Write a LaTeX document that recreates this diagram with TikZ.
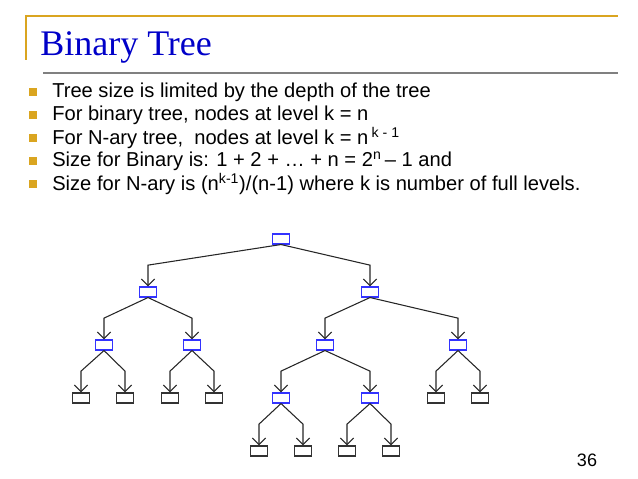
\documentclass[tikz,border=0pt]{standalone}
\usepackage{fontspec}
\setmainfont{Liberation Sans}
\newfontfamily\titlefont{Liberation Serif}
\usetikzlibrary{arrows.meta}

\definecolor{gold}{RGB}{218,165,32}
\definecolor{titleblue}{RGB}{0,0,200}

\tikzset{
  tnode/.style={draw=blue!80!white, thick, minimum width=12.75pt, minimum height=7.5pt, inner sep=0pt},
  leaf/.style={draw=black!80, thick, minimum width=12.75pt, minimum height=7.5pt, inner sep=0pt},
  edge/.style={thick, black!85, -{Straight Barb[length=5pt,width=10pt]}},
  bullet/.style={fill=gold, minimum size=5.5pt, inner sep=0pt},
  item/.style={anchor=west, font=\fontsize{15.1}{17}\selectfont, inner sep=0pt}
}

\begin{document}
\begin{tikzpicture}[x=0.75pt, y=-0.75pt]

    % frame
    \useasboundingbox (0,0) rectangle (638,478);
    \draw[gold, thick] (26,60) -- (26,16) -- (618,16);
    \draw[gray, thick] (43,73) -- (618,73);
    \node[anchor=west, titleblue, font=\titlefont\fontsize{27}{30}\selectfont, inner sep=0pt] (title) at (40,47) {Binary Tree};

    % bullets
    \foreach \i/\t in {1/{Tree size is limited by the depth of the tree},
                       2/{For binary tree, nodes at level k = n},
                       3/{For N-ary tree,\ \ nodes at level k = n\,\textsuperscript{k - 1}},
                       4/{Size for Binary is: 1 + 2 + … + n = 2\textsuperscript{n}\,– 1 and},
                       5/{Size for N-ary is (n\textsuperscript{k-1})/(n-1) where k is number of full levels.}} {
        \node[bullet] (b\i) at (33,{92+(\i-1)*23}) {};
        \node[item] (t\i) at (52,{92+(\i-1)*23}) {\t};
    }

    % tree
    \node[tnode] (r) at (281,239) {};
    \node[tnode] (a) at (148,292) {};
    \node[tnode] (b) at (370,292) {};
    \node[tnode] (aa) at (104,345) {};
    \node[tnode] (ab) at (192,345) {};
    \node[tnode] (ba) at (325,345) {};
    \node[tnode] (bb) at (458,345) {};
    \node[leaf] (aaa) at (81,398) {};
    \node[leaf] (aab) at (125,398) {};
    \node[leaf] (aba) at (170,398) {};
    \node[leaf] (abb) at (214,398) {};
    \node[tnode] (baa) at (281,398) {};
    \node[tnode] (bab) at (370,398) {};
    \node[leaf] (bba) at (436,398) {};
    \node[leaf] (bbb) at (480,398) {};
    \node[leaf] (baaa) at (259,451) {};
    \node[leaf] (baab) at (303,451) {};
    \node[leaf] (baba) at (347,451) {};
    \node[leaf] (babb) at (391,451) {};

    \foreach \p/\c in {r/a, r/b, a/aa, a/ab, b/ba, b/bb, aa/aaa, aa/aab, ab/aba, ab/abb,
                       ba/baa, ba/bab, bb/bba, bb/bbb, baa/baaa, baa/baab, bab/baba, bab/babb}
        \draw[edge] (\p.south) -- ([yshift=16pt]\c.north) -- (\c.north);

    % page number
    \node[font=\fontsize{13.5}{15}\selectfont] (page) at (587,460) {36};

\end{tikzpicture}
\end{document}
